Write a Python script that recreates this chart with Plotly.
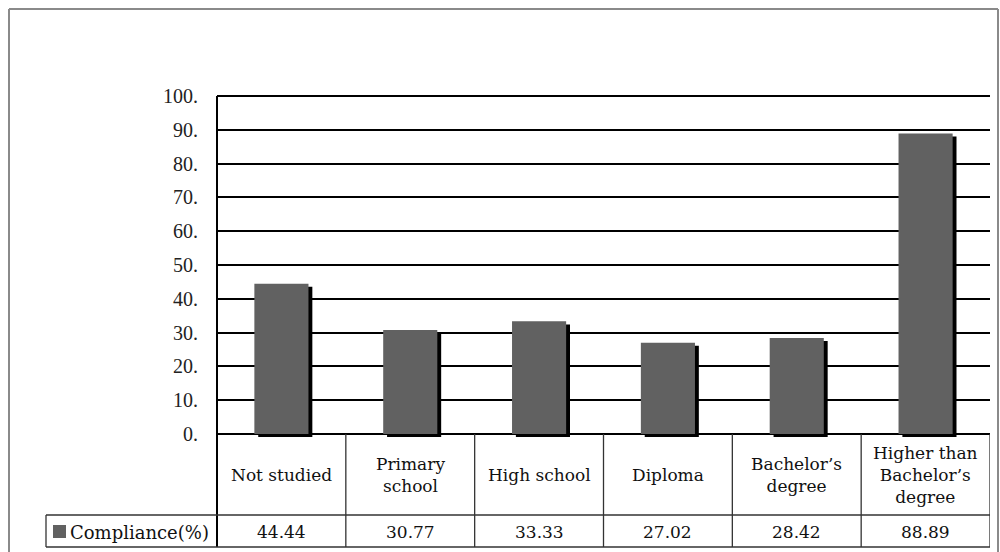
import plotly.graph_objects as go

categories = ["Not studied", "Primary school", "High school", "Diploma",
              "Bachelor's degree", "Higher than Bachelor's degree"]
header_labels = ["Not studied", "Primary<br>school", "High school", "Diploma",
                 "Bachelor’s<br>degree", "Higher than<br>Bachelor’s<br>degree"]
compliance = [44.44, 30.77, 33.33, 27.02, 28.42, 88.89]
series_name = "Compliance(%)"
y_ticks = [0, 10, 20, 30, 40, 50, 60, 70, 80, 90, 100]
y_tick_labels = ["0.", "10.", "20.", "30.", "40.", "50.", "60.", "70.", "80.", "90.", "100."]

W, H = 1000, 552
def px(x): return x / W
def py(y): return 1 - y / H

BAR_COLOR = "#616161"
SERIF = "Liberation Serif"
TABLE_FONT = "DejaVu Serif"

x_left, x_right = 217, 990
y_top_pix, y_zero_pix = 96, 434
unit = (y_zero_pix - y_top_pix) / 100.0
ymin, ymax = -1.0, 100.5
dom_y = [py(y_zero_pix - ymin * unit), py(y_zero_pix - ymax * unit)]

bar_w = 0.42
shadow_dx = 0.03
shadow_dy = 0.9

fig = go.Figure()
# shadow
fig.add_trace(go.Bar(
    x=categories, y=compliance, base=-shadow_dy, width=bar_w,
    offset=-bar_w / 2 + shadow_dx,
    marker=dict(color="#000000", line=dict(width=0)),
    hoverinfo="skip", showlegend=False))
fig.add_trace(go.Bar(
    x=categories, y=compliance, width=bar_w, name=series_name,
    marker=dict(color=BAR_COLOR, line=dict(width=0)),
    showlegend=False))

fig.update_layout(
    width=W, height=H, barmode="overlay",
    margin=dict(l=0, r=0, t=0, b=0),
    paper_bgcolor="white", plot_bgcolor="white",
    xaxis=dict(domain=[px(x_left), px(x_right)], showticklabels=False,
               showgrid=False, zeroline=False, showline=False, automargin=False,
               range=[-0.5, len(categories) - 0.5]),
    yaxis=dict(domain=dom_y, range=[ymin, ymax], tickvals=y_ticks,
               ticktext=y_tick_labels, showgrid=True, gridcolor="#000000",
               gridwidth=2, zeroline=False, showline=False, automargin=False,
               ticks="", ticklabelstandoff=18,
               tickfont=dict(family=SERIF, size=20, color="#222")),
)

shapes = []
line_c = "#333333"
frame_c = "#8a8a8a"
# outer frame (top, left, right)
shapes.append(dict(type="line", xref="paper", yref="paper",
                   x0=px(9), x1=px(998), y0=py(9), y1=py(9),
                   line=dict(color=frame_c, width=2)))
for xx in (9, 998):
    shapes.append(dict(type="line", xref="paper", yref="paper",
                       x0=px(xx), x1=px(xx), y0=py(9), y1=0,
                       line=dict(color=frame_c, width=2)))
# left axis line continuing into table
hdr_bot, val_bot = 515, 547
shapes.append(dict(type="line", xref="paper", yref="paper",
                   x0=px(x_left), x1=px(x_left), y0=py(y_top_pix), y1=py(val_bot),
                   line=dict(color="#000", width=2)))
# vertical table lines
for i in range(1, len(categories) + 1):
    shapes.append(dict(type="line", xref="x", yref="paper",
                       x0=i - 0.5, x1=i - 0.5, y0=py(y_zero_pix), y1=py(val_bot),
                       line=dict(color=line_c, width=1.3)))
# horizontal table lines
for yy in (hdr_bot, val_bot):
    shapes.append(dict(type="line", xref="paper", yref="paper",
                       x0=px(46), x1=px(x_right), y0=py(yy), y1=py(yy),
                       line=dict(color=line_c, width=1.3)))
shapes.append(dict(type="line", xref="paper", yref="paper",
                   x0=px(46), x1=px(46), y0=py(hdr_bot), y1=py(val_bot),
                   line=dict(color=line_c, width=1.3)))
# legend key
shapes.append(dict(type="rect", xref="paper", yref="paper",
                   x0=px(53), x1=px(66), y0=py(538), y1=py(525),
                   fillcolor=BAR_COLOR, line=dict(width=0)))
fig.update_layout(shapes=shapes)

ann = []
for c, lab, v in zip(categories, header_labels, compliance):
    ann.append(dict(x=c, xref="x", y=py((y_zero_pix + hdr_bot) / 2), yref="paper",
                    text=lab, showarrow=False, xanchor="center", yanchor="middle",
                    font=dict(family=TABLE_FONT, size=17, color="#111")))
    ann.append(dict(x=c, xref="x", y=py((hdr_bot + val_bot) / 2 + 1), yref="paper",
                    text=f"{v:.2f}", showarrow=False, xanchor="center", yanchor="middle",
                    font=dict(family=TABLE_FONT, size=17, color="#111")))
ann.append(dict(x=px(68), xref="paper", y=py((hdr_bot + val_bot) / 2 + 1), yref="paper",
                text=series_name, showarrow=False, xanchor="left", yanchor="middle",
                font=dict(family=TABLE_FONT, size=18, color="#111")))
fig.update_layout(annotations=ann)

fig.write_html(
    "out.html",
    config={"displayModeBar": False},
    post_script=(
        "document.body.style.margin='0px';"
        "document.body.style.overflow='hidden';"
        "var gd=document.getElementById('{plot_id}');"
        "gd.style.position='absolute';gd.style.left='0px';gd.style.top='0px';"
    ),
)
